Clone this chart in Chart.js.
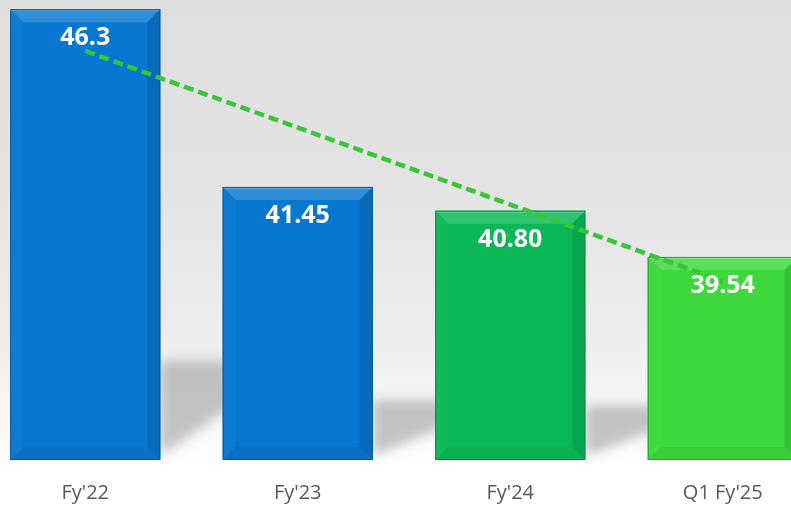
<!DOCTYPE html>
<html>
<head>
<meta charset="utf-8">
<script src="https://cdn.jsdelivr.net/npm/chart.js@4"></script>
<style>
  html, body { margin: 0; padding: 0; width: 791px; height: 508px; overflow: hidden; }
  body { background: linear-gradient(#dedede 0%, #e4e4e4 40%, #ececec 65%, #f6f6f6 80%, #ffffff 92%); position: relative; }
  #wrap { position: absolute; left: -21px; top: 0; width: 850px; height: 508px; }
</style>
</head>
<body>
<div id="wrap"><canvas id="c" width="850" height="508"></canvas></div>
<script>
// data
const categories = ["Fy'22", "Fy'23", "Fy'24", "Q1 Fy'25"];
const values = [46.3, 41.45, 40.80, 39.54];
const valueLabels = ['46.3', '41.45', '40.80', '39.54'];
// linear trend line as drawn
const trendValues = [45.16, 43.07, 40.97, 38.88];
const axisMin = 34;
const axisMax = 46.55;

const barColors = ['#0877cf', '#0877cf', '#0ab955', '#3cd83c'];

// colour helper
function shade(hex, amt) {
  let n = parseInt(hex.slice(1), 16);
  let r = (n >> 16) & 255, g = (n >> 8) & 255, b = n & 255;
  const f = v => Math.max(0, Math.min(255, Math.round(amt > 0 ? v + (255 - v) * amt : v * (1 + amt))));
  return `rgb(${f(r)},${f(g)},${f(b)})`;
}

function poly(ctx, pts, fill) {
  ctx.beginPath();
  ctx.moveTo(pts[0][0], pts[0][1]);
  for (let i = 1; i < pts.length; i++) ctx.lineTo(pts[i][0], pts[i][1]);
  ctx.closePath();
  ctx.fillStyle = fill;
  ctx.fill();
}

// floor shadow to the right of each bar
const shadowPlugin = {
  id: 'shadows',
  beforeDatasetsDraw(chart) {
    const ctx = chart.ctx;
    const meta = chart.getDatasetMeta(0);
    const step = meta.data.length > 1 ? meta.data[1].x - meta.data[0].x : 200;
    ctx.save();
    ctx.filter = 'blur(6px)';
    meta.data.forEach(bar => {
      const x1 = bar.x + bar.width / 2;
      const gap = step - bar.width;
      const h = (bar.base - bar.y) * 0.22;
      const base = bar.base;
      poly(ctx, [[x1, base - h], [x1 + gap + 10, base - h], [x1 + gap + 10, base - h * 0.55], [x1, base - 4]], 'rgba(150,150,150,0.55)');
    });
    ctx.restore();
  }
};

// bevel on the bars
const bevelPlugin = {
  id: 'bevel',
  afterDatasetDraw(chart, args) {
    if (args.index !== 0) return;
    const ctx = chart.ctx;
    args.meta.data.forEach((bar, i) => {
      const c = barColors[i];
      const x0 = bar.x - bar.width / 2, x1 = bar.x + bar.width / 2;
      const y0 = bar.y, y1 = bar.base;
      const b = 13;
      ctx.save();
      poly(ctx, [[x0, y0], [x1, y0], [x1 - b, y0 + b], [x0 + b, y0 + b]], shade(c, 0.16));
      poly(ctx, [[x0, y0], [x0 + b, y0 + b], [x0 + b, y1 - b], [x0, y1]], shade(c, 0.03));
      poly(ctx, [[x1, y0], [x1, y1], [x1 - b, y1 - b], [x1 - b, y0 + b]], shade(c, -0.1));
      poly(ctx, [[x0, y1], [x1, y1], [x1 - b, y1 - b], [x0 + b, y1 - b]], shade(c, -0.05));
      ctx.fillStyle = shade(c, 0.35);
      ctx.fillRect(x0, y0, bar.width, 2);
      ctx.strokeStyle = shade(c, -0.25);
      ctx.lineWidth = 1;
      ctx.strokeRect(x0 + 0.5, y0 + 0.5, bar.width - 1, y1 - y0 - 1);
      ctx.restore();
    });
  }
};

// value labels inside the bars
const labelPlugin = {
  id: 'valueLabels',
  afterDatasetsDraw(chart) {
    const ctx = chart.ctx;
    const meta = chart.getDatasetMeta(0);
    ctx.save();
    ctx.font = 'bold 25px "Open Sans", sans-serif';
    ctx.fillStyle = '#ffffff';
    ctx.textAlign = 'center';
    ctx.textBaseline = 'middle';
    meta.data.forEach((bar, i) => {
      ctx.fillText(valueLabels[i], bar.x, bar.y + 29);
    });
    ctx.restore();
  }
};

new Chart(document.getElementById('c'), {
  data: {
    labels: categories,
    datasets: [
      {
        type: 'bar',
        data: values,
        base: axisMin,
        backgroundColor: barColors,
        borderWidth: 0,
        barPercentage: 1,
        categoryPercentage: 0.706,
        order: 2
      },
      {
        type: 'line',
        data: trendValues,
        borderColor: '#36c636',
        borderWidth: 4.5,
        borderDash: [10, 5],
        pointRadius: 0,
        fill: false,
        tension: 0,
        order: 1
      }
    ]
  },
  options: {
    responsive: false,
    devicePixelRatio: 1,
    animation: false,
    layout: { padding: 0 },
    plugins: { legend: { display: false }, tooltip: { enabled: false } },
    scales: {
      x: {
        grid: { display: false, drawTicks: false },
        border: { display: false },
        ticks: { color: '#595959', font: { family: '"Open Sans", sans-serif', size: 20 }, padding: 21 },
        afterFit(scale) { scale.height = 48; }
      },
      y: {
        display: false,
        min: axisMin,
        max: axisMax
      }
    }
  },
  plugins: [shadowPlugin, bevelPlugin, labelPlugin]
});
</script>
</body>
</html>
